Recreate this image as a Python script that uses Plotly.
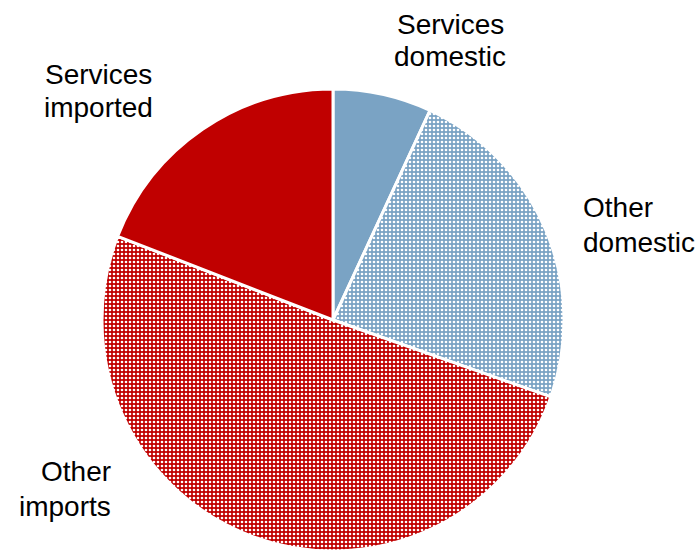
import plotly.graph_objects as go

W, H = 700, 551

# Shares of value added (percent), clockwise from 12 o'clock
categories = ["Services domestic", "Other domestic", "Other imports", "Services imported"]
values = [6.9, 23.5, 50.5, 19.1]

blue = "#7AA3C4"
red = "#C00000"
colors = [blue, blue, red, red]
patterns = ["", ".", ".", ""]

fig = go.Figure(
    go.Pie(
        labels=categories,
        values=values,
        sort=False,
        direction="clockwise",
        rotation=0,
        textinfo="none",
        hoverinfo="label+percent",
        showlegend=False,
        domain=dict(x=[102 / W, 564 / W], y=[0, 462 / H]),
        marker=dict(
            colors=colors,
            line=dict(color="white", width=3),
            pattern=dict(
                shape=patterns,
                fgcolor="white",
                bgcolor=colors,
                fgopacity=1,
                size=4,
                solidity=0.35,
            ),
        ),
    )
)

# Category labels placed around the pie (pixel positions -> paper coords)
label_lines = [
    ("Services", 450, 24, "center"),
    ("domestic", 450, 57, "center"),
    ("Other", 581, 208, "left"),
    ("domestic", 581, 242, "left"),
    ("Services", 98, 74, "center"),
    ("imported", 98, 107, "center"),
    ("Other", 113, 471, "right"),
    ("imports", 113, 506, "right"),
]

annotations = []
for text, px, py, anchor in label_lines:
    annotations.append(
        dict(
            text=text,
            x=px / W,
            y=1 - py / H,
            xref="paper",
            yref="paper",
            xanchor=anchor,
            yanchor="middle",
            showarrow=False,
            font=dict(family="Liberation Sans, Arial, sans-serif", size=28, color="black"),
        )
    )

fig.update_layout(
    width=W,
    height=H,
    margin=dict(l=0, r=0, t=0, b=0),
    paper_bgcolor="white",
    plot_bgcolor="white",
    annotations=annotations,
)

fig.write_html("out.html")
